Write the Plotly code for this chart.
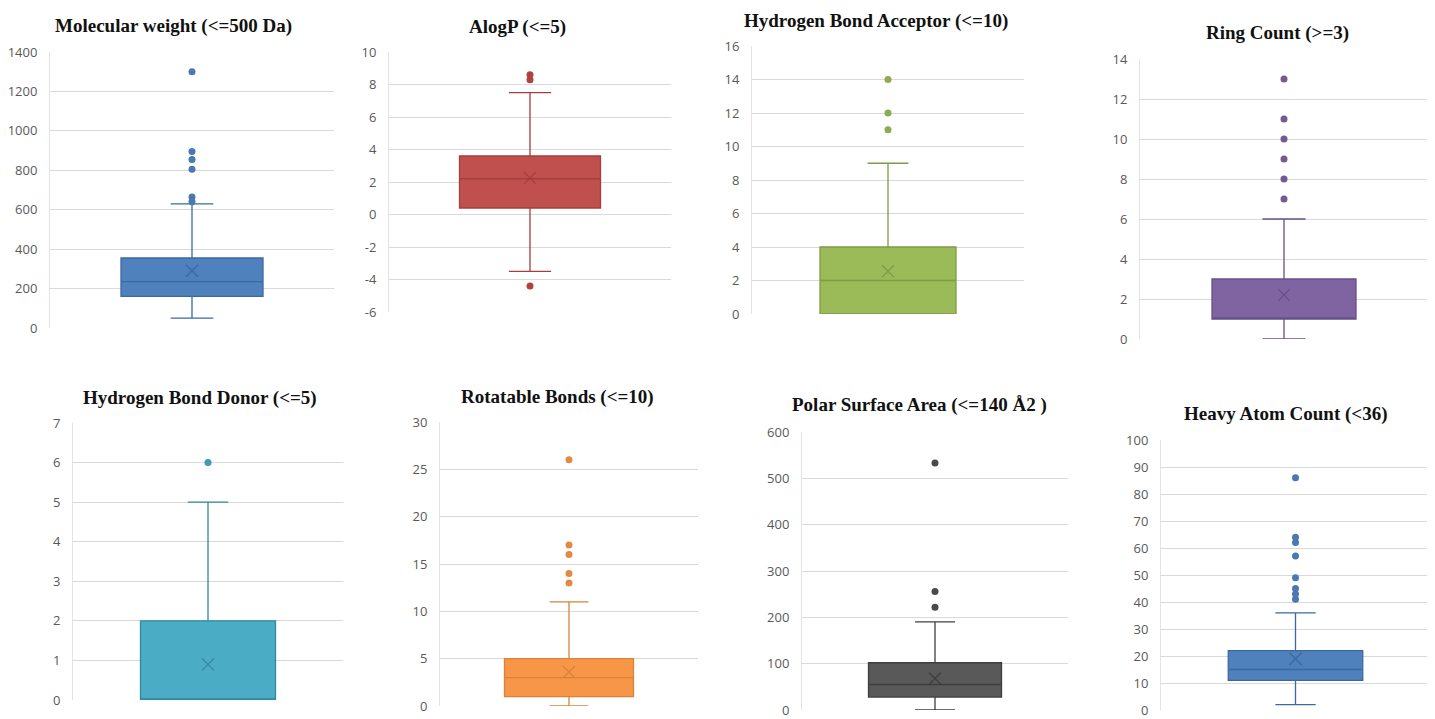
import plotly.graph_objects as go

# page body has an 8px margin; the figure is sized to fill the rest of the 1435x719 window
OFF = 8
W, H = 1435 - OFF, 719 - OFF

# ---- data ----
titles = ["Molecular weight (<=500 Da)", "AlogP (<=5)", "Hydrogen Bond Acceptor (<=10)", "Ring Count (>=3)",
          "Hydrogen Bond Donor (<=5)", "Rotatable Bonds (<=10)", "Polar Surface Area (<=140 Å2 )", "Heavy Atom Count (<36)"]
q1_vals = [160, 0.4, 0, 1, 0, 1, 28, 11]
median_vals = [235, 2.2, 2, 1, 0, 3, 55, 15]
q3_vals = [355, 3.6, 4, 3, 2, 5, 102, 22]
lower_vals = [50, -3.5, 0, 0, 0, 0, 0, 2]
upper_vals = [630, 7.5, 9, 6, 5, 11, 190, 36]
mean_vals = [290, 2.25, 2.55, 2.2, 0.9, 3.6, 68, 19]
outliers = [
    [640, 665, 805, 855, 895, 1300],
    [8.3, 8.6, -4.4],
    [11, 12, 14],
    [7, 8, 9, 10, 11, 13],
    [6],
    [13, 14, 16, 17, 26],
    [222, 256, 533],
    [41, 43, 45, 49, 57, 62, 64, 86],
]
y_ranges = [(0, 1400), (-6, 10), (0, 16), (0, 14), (0, 7), (0, 30), (0, 600), (0, 100)]
y_dticks = [200, 2, 2, 2, 1, 5, 100, 10]

# ---- styles ----
fills = ["#4f81bd", "#c0504d", "#9bbb59", "#8064a2", "#4bacc6", "#f79646", "#595959", "#4f81bd"]
lines = ["#3b69a3", "#a33f3c", "#7e9c45", "#67508a", "#31899f", "#d9823a", "#3f3f3f", "#3b69a3"]
dots = ["#4a78b0", "#b0413e", "#8aab4f", "#735a94", "#3f9ab3", "#e08a44", "#4a4a4a", "#4a78b0"]

# pixel boxes in window coordinates: x0, x1, ytop, ybottom
panels = [
    (50, 334, 52, 328), (389, 671, 52, 312), (752, 1024, 46, 314), (1140, 1428, 59, 339),
    (73, 343, 423, 700), (440, 698, 422, 706), (802, 1068, 432, 710), (1161, 1430, 440, 710),
]
title_pos = [(173, 26), (517, 27), (876, 21), (1277, 33), (200, 398), (557, 397), (919, 405), (1285, 414)]


def fx(px):
    return (px - OFF) / W


def fy(py):
    return 1 - (py - OFF) / H


fig = go.Figure()
annotations = []
for i in range(8):
    n = i + 1
    xa = "x" if n == 1 else f"x{n}"
    ya = "y" if n == 1 else f"y{n}"
    fig.add_trace(go.Box(
        x=[0], q1=[q1_vals[i]], median=[median_vals[i]], q3=[q3_vals[i]],
        lowerfence=[lower_vals[i]], upperfence=[upper_vals[i]],
        width=0.5, whiskerwidth=0.3, fillcolor=fills[i],
        line=dict(color=lines[i], width=1.3), boxpoints=False,
        xaxis=xa, yaxis=ya, showlegend=False, hoverinfo="skip",
    ))
    fig.add_trace(go.Scatter(
        x=[0] * len(outliers[i]), y=outliers[i], mode="markers",
        marker=dict(color=dots[i], size=7), xaxis=xa, yaxis=ya, showlegend=False,
    ))
    fig.add_trace(go.Scatter(
        x=[0], y=[mean_vals[i]], mode="markers",
        marker=dict(symbol="x-thin-open", size=12, color=lines[i], line=dict(color=lines[i], width=1.3)),
        xaxis=xa, yaxis=ya, showlegend=False,
    ))
    x0, x1, yt, yb = panels[i]
    lo, hi = y_ranges[i]
    step = y_dticks[i]
    tvals = [lo + k * step for k in range(int(round((hi - lo) / step)) + 1)]
    ttext = [f"{v:g}".replace("\u2212", "-") for v in tvals]
    fig.layout[("xaxis" if n == 1 else f"xaxis{n}")] = dict(
        domain=[fx(x0), fx(x1)], range=[-0.5, 0.5], showgrid=False, zeroline=False,
        showticklabels=False, showline=False, fixedrange=True, anchor=ya,
        automargin=False,
    )
    fig.layout[("yaxis" if n == 1 else f"yaxis{n}")] = dict(
        domain=[fy(yb), fy(yt)], range=[lo, hi], tickvals=tvals, ticktext=ttext,
        showgrid=True, gridcolor="#d9d9d9", gridwidth=1, zeroline=False,
        showline=True, linecolor="#e3e3e3", linewidth=1,
        ticks="", ticklabelstandoff=9, automargin=False,
        tickfont=dict(family="Open Sans, Liberation Sans, sans-serif", size=13, color="#595959"),
        anchor=xa,
    )
    tx, ty = title_pos[i]
    annotations.append(dict(
        text=f"<b>{titles[i]}</b>", x=fx(tx), y=fy(ty), xref="paper", yref="paper",
        xanchor="center", yanchor="middle", showarrow=False,
        font=dict(family="Liberation Serif, Times New Roman, serif", size=19, color="#111111"),
    ))

fig.update_layout(
    width=W, height=H, margin=dict(l=0, r=0, t=0, b=0, autoexpand=False),
    paper_bgcolor="white", plot_bgcolor="white", annotations=annotations,
    showlegend=False,
)
fig.write_html("out.html")
